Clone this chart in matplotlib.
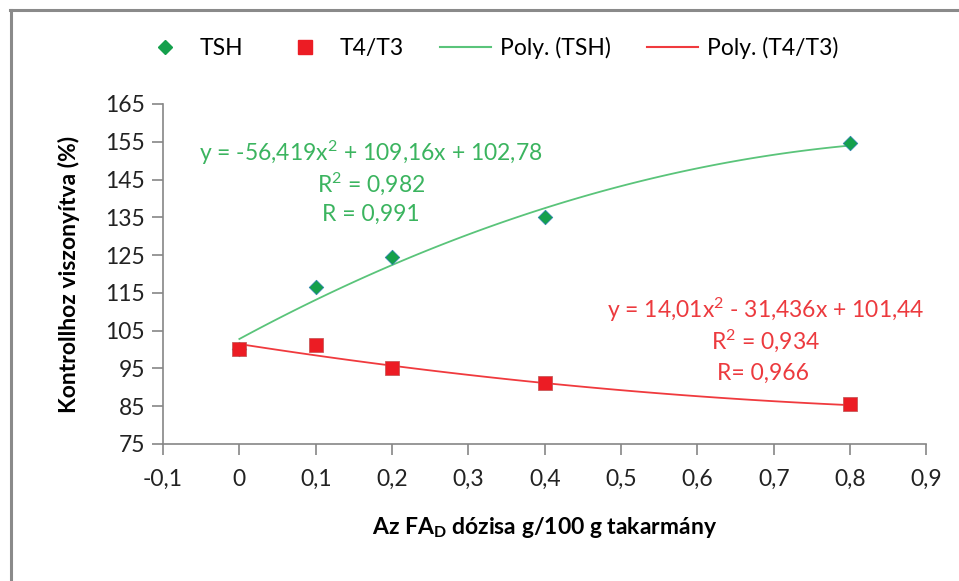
import numpy as np
import matplotlib
matplotlib.use('Agg')
import matplotlib.pyplot as plt
from matplotlib.lines import Line2D

plt.rcParams['font.family'] = ['Lato', 'DejaVu Sans']
plt.rcParams['mathtext.fontset'] = 'custom'
plt.rcParams['mathtext.rm'] = 'Lato'
plt.rcParams['mathtext.it'] = 'Lato'
plt.rcParams['mathtext.bf'] = 'Lato:bold'

# adatok
dozis = [0, 0.1, 0.2, 0.4, 0.8]
tsh = [100, 116.5, 124.5, 135.0, 154.6]
t4t3 = [100, 101.1, 95.0, 91.0, 85.6]

# trendvonal egyutthatok (a diagram feliratabol)
tsh_poly = [-56.419, 109.16, 102.78]
t4t3_poly = [14.01, -31.436, 101.44]

x_ticks = [-0.1, 0, 0.1, 0.2, 0.3, 0.4, 0.5, 0.6, 0.7, 0.8, 0.9]
y_ticks = [75, 85, 95, 105, 115, 125, 135, 145, 155, 165]

zold_pont = '#15a04c'
zold_vonal = '#5ac47a'
zold_szoveg = '#3bb45f'
piros_pont = '#ec1c24'
piros_vonal = '#f03a3e'
piros_szoveg = '#ec3a3e'
szurke = '#868686'

fig = plt.figure(figsize=(9.59, 5.81), dpi=100)
ax = fig.add_axes([0.170, 0.236, 0.796, 0.585])

xx = np.linspace(0, 0.8, 100)
ax.plot(xx, np.polyval(tsh_poly, xx), color=zold_vonal, lw=1.3, zorder=2)
ax.plot(xx, np.polyval(t4t3_poly, xx), color=piros_vonal, lw=1.3, zorder=2)
ax.scatter(dozis, tsh, marker='D', s=55, color=zold_pont, edgecolor='#2b7fb0', linewidth=0.5, zorder=3)
ax.scatter(dozis, t4t3, marker='s', s=110, color=piros_pont, edgecolor='#c05050', linewidth=0.5, zorder=4)

ax.set_xlim(-0.1, 0.9)
ax.set_ylim(75, 165)
ax.set_xticks(x_ticks)
ax.set_yticks(y_ticks)
ax.set_xticklabels([f'{v:g}'.replace('.', ',') for v in x_ticks])
ax.set_yticklabels([str(v) for v in y_ticks])
ax.tick_params(axis='both', labelsize=16.5, color=szurke, length=8, width=1.2, pad=5, labelcolor='#222222')
ax.tick_params(axis='x', pad=10)
for s in ['top', 'right']:
    ax.spines[s].set_visible(False)
for s in ['left', 'bottom']:
    ax.spines[s].set_color(szurke)
    ax.spines[s].set_linewidth(1.2)

ax.set_xlabel(r'Az FA$_{\mathbf{D}}$ dózisa g/100 g takarmány', fontsize=16.5, fontweight='bold', labelpad=18)
ax.set_ylabel('Kontrollhoz viszonyítva (%)', fontsize=16.5, fontweight='bold', labelpad=18)

# egyenletek
fs = 16.5
ax.text(0.1725, 152.1, r'y = -56,419x$^{2}$ + 109,16x + 102,78', color=zold_szoveg, fontsize=fs, ha='center', va='center')
ax.text(0.1725, 143.9, r'R$^{2}$ = 0,982', color=zold_szoveg, fontsize=fs, ha='center', va='center')
ax.text(0.1725, 135.7, 'R = 0,991', color=zold_szoveg, fontsize=fs, ha='center', va='center')
ax.text(0.689, 110.4, r'y = 14,01x$^{2}$ - 31,436x + 101,44', color=piros_szoveg, fontsize=fs, ha='center', va='center')
ax.text(0.689, 102.2, r'R$^{2}$ = 0,934', color=piros_szoveg, fontsize=fs, ha='center', va='center')
ax.text(0.686, 93.8, 'R= 0,966', color=piros_szoveg, fontsize=fs, ha='center', va='center')

handles = [
    Line2D([], [], ls='none', marker='D', color=zold_pont, markersize=7),
    Line2D([], [], ls='none', marker='s', color=piros_pont, markersize=10),
    Line2D([], [], color=zold_vonal, lw=1.5),
    Line2D([], [], color=piros_vonal, lw=1.5),
]
fig.legend(handles, ['TSH', 'T4/T3', 'Poly. (TSH)', 'Poly. (T4/T3)'], loc='center',
           bbox_to_anchor=(0.51, 0.918), ncol=4, frameon=False, fontsize=16.5,
           handlelength=2.2, columnspacing=1.6, handletextpad=0.4)

# keret
fig.add_artist(Line2D([0.0115, 0.0115], [0, 0.983], transform=fig.transFigure, color='#8a8a8a', lw=2.2))
fig.add_artist(Line2D([0.0105, 1], [0.983, 0.983], transform=fig.transFigure, color='#8a8a8a', lw=2.2))

fig.savefig('out.png', dpi=100)
